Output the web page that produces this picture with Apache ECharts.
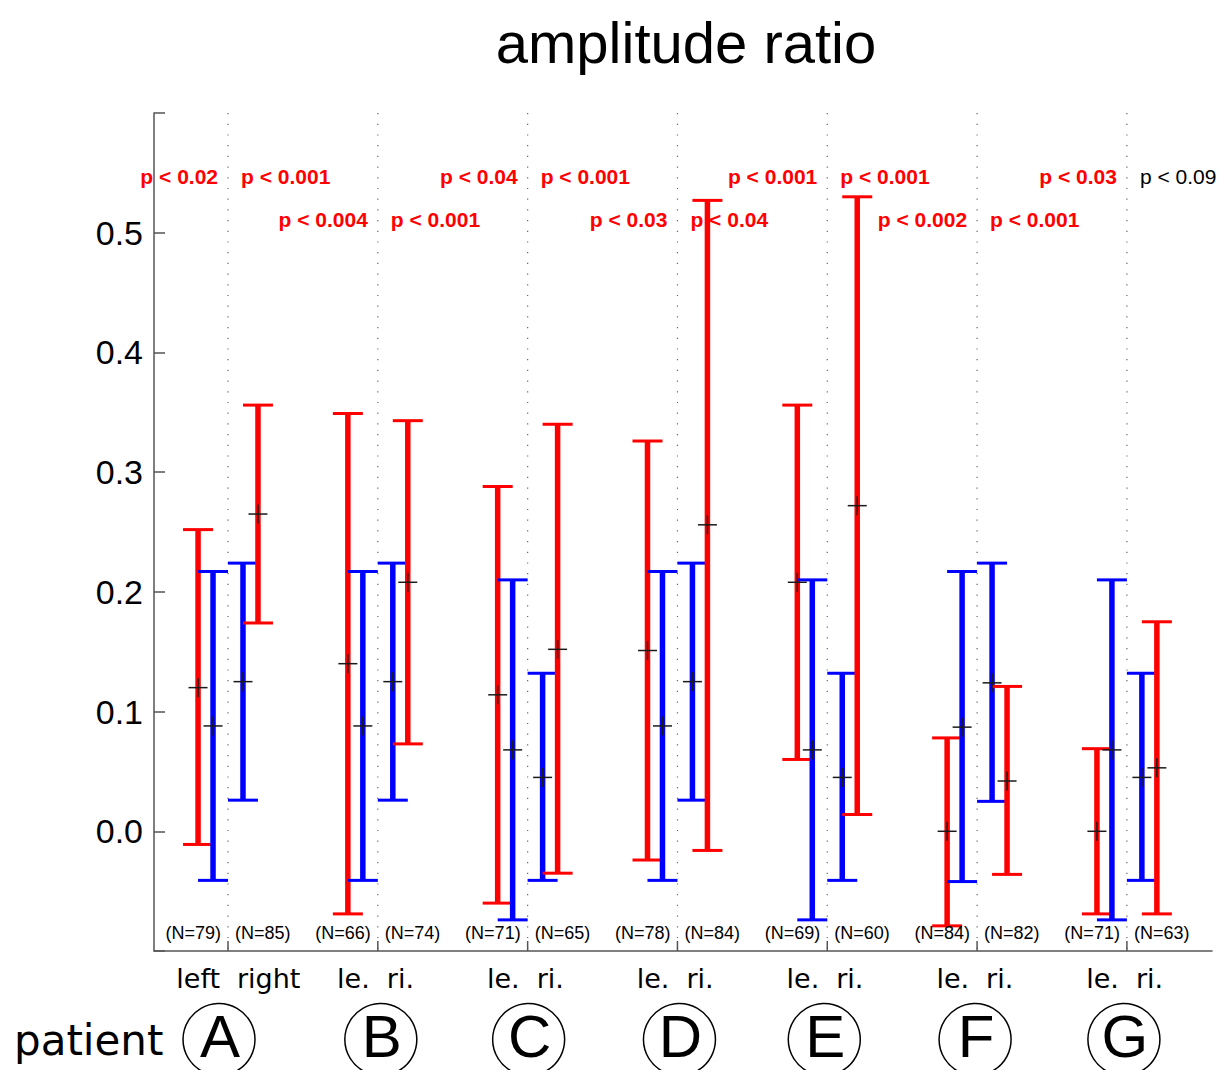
<!DOCTYPE html>
<html><head><meta charset="utf-8">
<script src="https://cdn.jsdelivr.net/npm/echarts@6/dist/echarts.min.js"></script>
<style>html,body{margin:0;padding:0;background:#fff}#c{width:1225px;height:1070px}</style>
</head><body><div id="c"></div>
<script>
// ---------- data ----------
const patients = ['A', 'B', 'C', 'D', 'E', 'F', 'G'];
const sideLeftLabels = ['left', 'le.', 'le.', 'le.', 'le.', 'le.', 'le.'];
const sideRightLabels = ['right', 'ri.', 'ri.', 'ri.', 'ri.', 'ri.', 'ri.'];
const nLeft = [79, 66, 71, 78, 69, 84, 71];
const nRight = [85, 74, 65, 84, 60, 82, 63];
const pLeft = ['p < 0.02', 'p < 0.004', 'p < 0.04', 'p < 0.03', 'p < 0.001', 'p < 0.002', 'p < 0.03'];
const pRight = ['p < 0.001', 'p < 0.001', 'p < 0.001', 'p < 0.04', 'p < 0.001', 'p < 0.001', 'p < 0.09'];
const pLeftSignificant = [true, true, true, true, true, true, true];
const pRightSignificant = [true, true, true, true, true, true, false];
const yTickValues = [0.0, 0.1, 0.2, 0.3, 0.4, 0.5];

// left hemisphere, red
const redLeftLow  = [-0.011, -0.069, -0.060, -0.024, 0.060, -0.079, -0.069];
const redLeftMean = [0.120, 0.140, 0.114, 0.151, 0.208, 0.000, 0.000];
const redLeftHigh = [0.252, 0.349, 0.288, 0.326, 0.356, 0.078, 0.069];
// left hemisphere, blue
const blueLeftLow  = [-0.041, -0.041, -0.074, -0.041, -0.074, -0.042, -0.074];
const blueLeftMean = [0.088, 0.088, 0.068, 0.088, 0.068, 0.087, 0.068];
const blueLeftHigh = [0.217, 0.217, 0.210, 0.217, 0.210, 0.217, 0.210];
// right hemisphere, blue
const blueRightLow  = [0.026, 0.026, -0.041, 0.026, -0.041, 0.025, -0.041];
const blueRightMean = [0.125, 0.125, 0.045, 0.125, 0.045, 0.124, 0.045];
const blueRightHigh = [0.224, 0.224, 0.132, 0.224, 0.132, 0.224, 0.132];
// right hemisphere, red
const redRightLow  = [0.174, 0.073, -0.035, -0.016, 0.014, -0.036, -0.069];
const redRightMean = [0.265, 0.208, 0.152, 0.256, 0.272, 0.042, 0.053];
const redRightHigh = [0.356, 0.343, 0.340, 0.527, 0.530, 0.121, 0.175];

// ---------- layout / style ----------
const RED = '#ff0000', BLUE = '#0000ff', AXIS = '#555555';
const Y_MIN = -0.1, Y_MAX = 0.6;
const circleShiftPx = [-9, 3, 1, 2, -3, -2, -3];

function errorBarSeries(name, color, offset, low, mean, high, z) {
  return {
    type: 'custom', name: name, z: z,
    data: patients.map((p, i) => [i + offset, low[i], mean[i], high[i]]),
    encode: { x: 0, y: [1, 2, 3] },
    renderItem: function (params, api) {
      const x = api.value(0);
      const top = api.coord([x, api.value(3)]);
      const bot = api.coord([x, api.value(1)]);
      const hw = 15;
      return {
        type: 'group', children: [
          { type: 'line', shape: { x1: top[0], y1: top[1], x2: bot[0], y2: bot[1] }, style: { stroke: color, lineWidth: 5.5 } },
          { type: 'line', shape: { x1: top[0] - hw, y1: top[1], x2: top[0] + hw, y2: top[1] }, style: { stroke: color, lineWidth: 3 } },
          { type: 'line', shape: { x1: bot[0] - hw, y1: bot[1], x2: bot[0] + hw, y2: bot[1] }, style: { stroke: color, lineWidth: 3 } }
        ]
      };
    }
  };
}

function meanSeries(offset, mean) {
  return {
    type: 'custom', z: 10,
    data: patients.map((p, i) => [i + offset, mean[i]]),
    encode: { x: 0, y: 1 },
    renderItem: function (params, api) {
      const c = api.coord([api.value(0), api.value(1)]);
      const h = 9.5;
      return {
        type: 'group', children: [
          { type: 'line', shape: { x1: c[0] - h, y1: c[1], x2: c[0] + h, y2: c[1] }, style: { stroke: '#1a1a1a', lineWidth: 1.5 } },
          { type: 'line', shape: { x1: c[0], y1: c[1] - h, x2: c[0], y2: c[1] + h }, style: { stroke: '#1a1a1a', lineWidth: 1.5 } }
        ]
      };
    }
  };
}

const separators = {
  type: 'custom', z: 1, silent: true,
  data: patients.map((p, i) => [i]),
  encode: { x: 0 },
  renderItem: function (params, api) {
    const i = api.value(0);
    const t = api.coord([i, Y_MAX]);
    const b = api.coord([i, Y_MIN]);
    return {
      type: 'group', children: [
        { type: 'line', shape: { x1: t[0], y1: t[1], x2: b[0], y2: b[1] }, style: { stroke: '#666', lineWidth: 1.2, lineDash: [1.2, 9.5] } },
        { type: 'line', shape: { x1: b[0], y1: b[1], x2: b[0], y2: b[1] - 10 }, style: { stroke: AXIS, lineWidth: 1.5 } }
      ]
    };
  }
};

const annotations = {
  type: 'custom', z: 12, silent: true,
  data: patients.map((p, i) => [i]),
  encode: { x: 0 },
  renderItem: function (params, api) {
    const i = api.value(0);
    const idx = params.dataIndex;
    const t = api.coord([i, Y_MAX]);
    const b = api.coord([i, Y_MIN]);
    const cx = b[0];
    const ccx = cx + circleShiftPx[idx];
    const rowY = t[1] + (idx % 2 === 0 ? 63 : 106);
    const pStyle = (sig) => ({
      fill: sig ? RED : '#000', fontSize: 21, fontWeight: sig ? 'bold' : 'normal',
      fontFamily: 'Liberation Sans, Arial, sans-serif', verticalAlign: 'middle'
    });
    const nStyle = { fill: '#000', fontSize: 18, fontFamily: 'Liberation Sans, Arial, sans-serif', verticalAlign: 'middle' };
    const sideStyle = { fill: '#000', fontSize: 27, fontFamily: 'DejaVu Sans, sans-serif', verticalAlign: 'middle' };
    return {
      type: 'group', children: [
        { type: 'text', x: cx - 10, y: rowY, style: Object.assign({ text: pLeft[idx], align: 'right' }, pStyle(pLeftSignificant[idx])) },
        { type: 'text', x: cx + 13, y: rowY, style: Object.assign({ text: pRight[idx], align: 'left' }, pStyle(pRightSignificant[idx])) },
        { type: 'text', x: cx - 7, y: b[1] - 18, style: Object.assign({ text: '(N=' + nLeft[idx] + ')', align: 'right' }, nStyle) },
        { type: 'text', x: cx + 7, y: b[1] - 18, style: Object.assign({ text: '(N=' + nRight[idx] + ')', align: 'left' }, nStyle) },
        { type: 'text', x: cx - 8, y: b[1] + 27, style: Object.assign({ text: sideLeftLabels[idx], align: 'right' }, sideStyle) },
        { type: 'text', x: cx + 9, y: b[1] + 27, style: Object.assign({ text: sideRightLabels[idx], align: 'left' }, sideStyle) },
        { type: 'circle', shape: { cx: ccx, cy: b[1] + 88.5, r: 36 }, style: { fill: 'none', stroke: '#000', lineWidth: 1.5 } },
        { type: 'text', x: ccx + 1, y: b[1] + 85, style: { text: patients[idx], align: 'center', verticalAlign: 'middle', fill: '#000', fontSize: 60, fontFamily: 'Liberation Sans, Arial, sans-serif' } }
      ]
    };
  }
};

const chart = echarts.init(document.getElementById('c'), null, { renderer: 'svg' });
chart.setOption({
  animation: false,
  backgroundColor: '#ffffff',
  grid: { left: 154, right: 13, top: 113, bottom: 119, containLabel: false },
  graphic: [
    { type: 'text', x: 686, y: 42, style: { text: 'amplitude ratio', fontSize: 58, fontFamily: 'Liberation Sans, Arial, sans-serif', fill: '#000', align: 'center', verticalAlign: 'middle' } },
    { type: 'text', x: 14, y: 1040, style: { text: 'patient', fontSize: 42, fontFamily: 'DejaVu Sans, sans-serif', fill: '#000', align: 'left', verticalAlign: 'middle' } }
  ],
  xAxis: {
    type: 'value', min: -0.494, max: 6.568,
    axisLine: { show: true, onZero: false, lineStyle: { color: AXIS, width: 1.5 } },
    axisTick: { show: false }, axisLabel: { show: false }, splitLine: { show: false }
  },
  yAxis: {
    type: 'value', min: Y_MIN, max: Y_MAX, interval: 0.1,
    axisLine: { show: true, onZero: false, lineStyle: { color: AXIS, width: 1.5 } },
    axisTick: { show: true, inside: true, length: 11, lineStyle: { color: AXIS, width: 1.5 } },
    splitLine: { show: false },
    axisLabel: {
      margin: 11, fontSize: 34, color: '#000', fontFamily: 'Liberation Sans, Arial, sans-serif',
      formatter: function (v) {
        const m = yTickValues.find(t => Math.abs(t - v) < 1e-6);
        return m === undefined ? '' : m.toFixed(1);
      }
    }
  },
  series: [
    separators,
    errorBarSeries('red left', RED, -0.2, redLeftLow, redLeftMean, redLeftHigh, 3),
    errorBarSeries('blue left', BLUE, -0.1, blueLeftLow, blueLeftMean, blueLeftHigh, 4),
    errorBarSeries('blue right', BLUE, 0.1, blueRightLow, blueRightMean, blueRightHigh, 3),
    errorBarSeries('red right', RED, 0.2, redRightLow, redRightMean, redRightHigh, 4),
    meanSeries(-0.2, redLeftMean),
    meanSeries(-0.1, blueLeftMean),
    meanSeries(0.1, blueRightMean),
    meanSeries(0.2, redRightMean),
    annotations
  ]
});
</script>
</body></html>
